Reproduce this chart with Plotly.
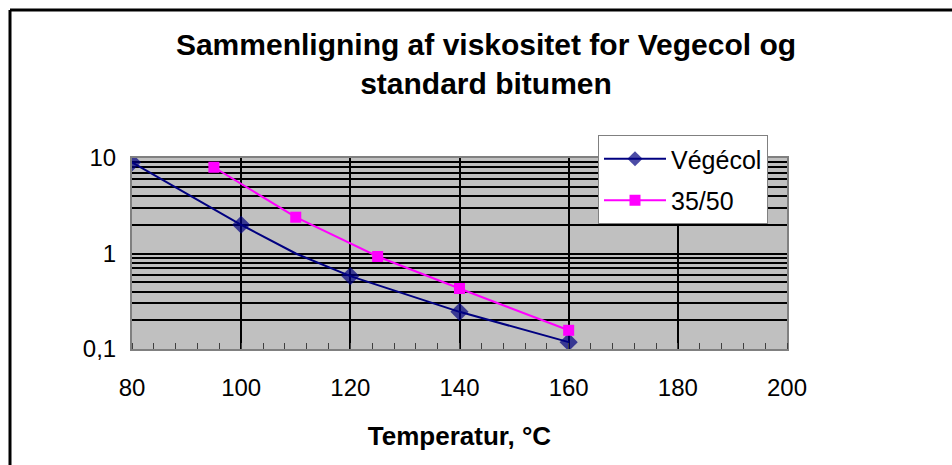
import plotly.graph_objects as go

# Data
vegecol_temp = [80, 100, 110, 120, 140, 160]
vegecol_visc = [9.0, 2.0, 1.0, 0.58, 0.245, 0.118]
vegecol_marker_size = [14, 14, 0, 14, 14, 14]

bitumen_temp = [95, 110, 125, 140, 160]
bitumen_visc = [8.0, 2.4, 0.93, 0.43, 0.157]

x_ticks = [80, 100, 120, 140, 160, 180, 200]
y_ticks = [0.1, 1, 10]
y_ticktext = ["0,1", "1", "10"]
y_minor = [0.2, 0.3, 0.4, 0.5, 0.6, 0.7, 0.8, 0.9, 2, 3, 4, 5, 6, 7, 8, 9]

FONT = "Arial, Liberation Sans, sans-serif"

fig = go.Figure()
fig.add_trace(go.Scatter(
    x=vegecol_temp, y=vegecol_visc, name="Végécol",
    mode="lines+markers",
    line=dict(color="#000080", width=2),
    marker=dict(symbol="diamond", size=vegecol_marker_size, color="#000080",
                line=dict(width=0)),
    legendgroup="a",
))
fig.add_trace(go.Scatter(
    x=bitumen_temp, y=bitumen_visc, name="35/50",
    mode="lines+markers",
    line=dict(color="#FF00FF", width=2),
    marker=dict(symbol="square", size=11, color="#FF00FF", line=dict(width=0)),
    legendgroup="b",
))

L, R, T, B = 132, 165, 158, 116
W, H = 952, 465
pw = W - L - R
ph = H - T - B

fig.update_layout(
    width=W, height=H,
    margin=dict(l=L, r=R, t=T, b=B, autoexpand=False),
    paper_bgcolor="white",
    plot_bgcolor="#C0C0C0",
    font=dict(family=FONT, size=24, color="black"),
    title=dict(
        text="<b>Sammenligning af viskositet for Vegecol og<br>standard bitumen</b>",
        x=(486 - L) / pw, xref="paper", xanchor="center",
        y=1 - 55 / H, yanchor="middle",
        font=dict(family=FONT, size=30, color="black"),
    ),
    showlegend=True,
    legend=dict(
        x=(598 - L) / pw, y=(H - B - 135) / ph,
        xanchor="left", yanchor="top",
        bgcolor="white", bordercolor="#808080", borderwidth=1,
        font=dict(family=FONT, size=25, color="black"),
        tracegroupgap=6,
        itemwidth=62,
    ),
    xaxis=dict(
        range=[80, 200], tickvals=x_ticks,
        showgrid=True, gridcolor="black", gridwidth=2,
        showline=True, linecolor="#808080", linewidth=2, mirror=True,
        ticks="", ticklabelstandoff=16,
        zeroline=False,
        minor=dict(dtick=4, tick0=80, ticks="inside", ticklen=6,
                   tickcolor="#404040", tickwidth=1, showgrid=False),
        title=dict(text="<b>Temperatur, °C</b>", standoff=27,
                   font=dict(family=FONT, size=26, color="black")),
    ),
    yaxis=dict(
        type="log", range=[-1, 1],
        tickvals=y_ticks, ticktext=y_ticktext,
        showgrid=True, gridcolor="black", gridwidth=2,
        showline=True, linecolor="#808080", linewidth=2, mirror=True,
        ticks="", ticklabelstandoff=9,
        zeroline=False,
        minor=dict(tickvals=y_minor, showgrid=True, gridcolor="black",
                   gridwidth=2, ticks=""),
    ),
    shapes=[
        dict(type="line", xref="paper", yref="paper",
             x0=(10 - L) / pw, x1=(W + 5 - L) / pw,
             y0=(H - B - 10) / ph, y1=(H - B - 10) / ph,
             line=dict(color="black", width=3)),
        dict(type="line", xref="paper", yref="paper",
             x0=(10 - L) / pw, x1=(10 - L) / pw,
             y0=(H - B - 10) / ph, y1=-(B + 5) / ph,
             line=dict(color="black", width=3)),
    ],
)

fig.write_html(
    "out.html",
    config={"displayModeBar": False},
    post_script="document.body.style.margin='0';document.body.style.overflow='hidden';",
)
